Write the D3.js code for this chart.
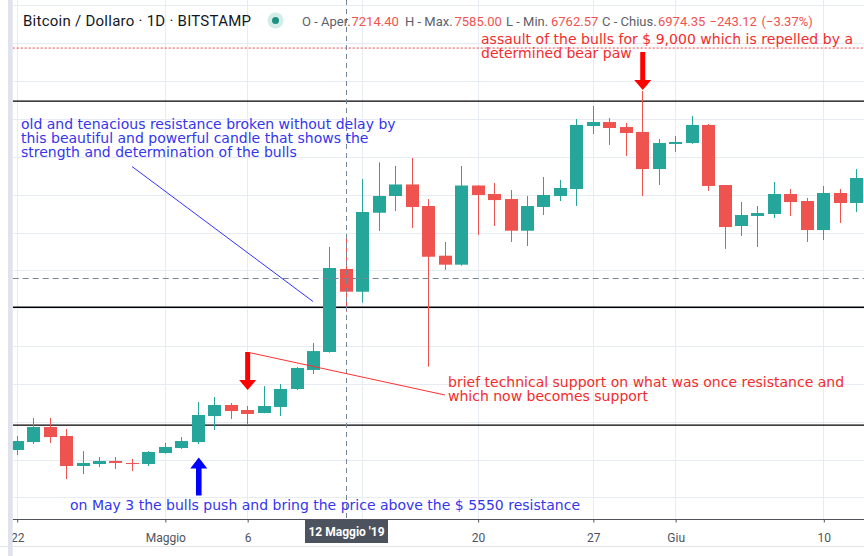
<!DOCTYPE html>
<html>
<head>
<meta charset="utf-8">
<script src="https://cdn.jsdelivr.net/npm/d3@7"></script>
<style>
  body { margin: 0; background: #fff; }
  svg { display: block; }
</style>
</head>
<body>
<div id="chart"></div>
<script>
// daily candles, BTC/USD Bitstamp
const dates = [
  "2019-04-22","2019-04-23","2019-04-24","2019-04-25","2019-04-26","2019-04-27","2019-04-28",
  "2019-04-29","2019-04-30","2019-05-01","2019-05-02","2019-05-03","2019-05-04","2019-05-05",
  "2019-05-06","2019-05-07","2019-05-08","2019-05-09","2019-05-10","2019-05-11","2019-05-12",
  "2019-05-13","2019-05-14","2019-05-15","2019-05-16","2019-05-17","2019-05-18","2019-05-19",
  "2019-05-20","2019-05-21","2019-05-22","2019-05-23","2019-05-24","2019-05-25","2019-05-26",
  "2019-05-27","2019-05-28","2019-05-29","2019-05-30","2019-05-31","2019-06-01","2019-06-02",
  "2019-06-03","2019-06-04","2019-06-05","2019-06-06","2019-06-07","2019-06-08","2019-06-09",
  "2019-06-10","2019-06-11","2019-06-12"
];
const opens = [
  5301, 5385, 5544, 5449, 5132, 5153, 5185, 5164, 5153, 5269, 5322, 5385, 5660, 5777,
  5724, 5692, 5756, 5946, 6147, 6337, 7214.40, 6974, 7809, 7986, 8108, 7880, 7355, 7260,
  8097, 8007, 7954, 7619, 7870, 7986, 8060, 8726, 8768, 8715, 8663, 8271, 8536, 8546,
  8737, 8102, 7669, 7775, 7796, 8007, 7933, 7626, 8018, 7912
];
const highs = [
  5449, 5639, 5639, 5523, 5290, 5227, 5227, 5206, 5290, 5375, 5438, 5808, 5861, 5798,
  5766, 5977, 5998, 6178, 6432, 7447, 7585.00, 8166, 8342, 8303, 8388, 7954, 7500, 8303,
  8100, 8123, 8049, 7986, 8187, 8155, 8800, 8937, 8811, 8758, 9096, 8588, 8620, 8832,
  8747, 8102, 7922, 7880, 8134, 8060, 7965, 8092, 8060, 8271
];
const lows = [
  5248, 5364, 5375, 4994, 5047, 5121, 5100, 5079, 5132, 5262, 5312, 5364, 5512, 5629,
  5565, 5690, 5660, 5935, 6104, 6330, 6762.57, 6858, 7616, 7827, 7648, 6182, 7204, 7249,
  7574, 7669, 7500, 7457, 7785, 7933, 7880, 8641, 8525, 8409, 7986, 8102, 8451, 8536,
  8039, 7426, 7563, 7447, 7753, 7775, 7500, 7521, 7701, 7817
];
const closes = [
  5396, 5544, 5438, 5132, 5164, 5185, 5164, 5156, 5280, 5333, 5396, 5671, 5777, 5713,
  5682, 5766, 5946, 6168, 6347, 7225, 6974.35, 7817, 7986, 8108, 7870, 7344, 7260, 8097,
  7997, 7943, 7619, 7880, 7997, 8071, 8737, 8768, 8705, 8652, 8271, 8546, 8557, 8737,
  8092, 7658, 7785, 7806, 8007, 7922, 7626, 8018, 7912, 8176
];

const gridPrices = [4800, 5200, 5600, 6000, 6400, 6800, 7200, 7600, 8000, 8400, 8800, 9200, 9600, 10000];
const tickDates = ["2019-04-22","2019-05-01","2019-05-06","2019-05-13","2019-05-20","2019-05-27","2019-06-01","2019-06-10"];
// the 13 label sits under the crosshair date box, so it is left blank
const tickLabels = ["22", "Maggio", "6", "", "20", "27", "Giu", "10"];

const levels = [8990, 6810, 5565];   // black horizontal lines
const dottedLevel = 9550;            // red dotted line
const crossDate = "2019-05-12";
const crossPrice = 7119;

const header = {
  title: "Bitcoin / Dollaro \u00b7 1D \u00b7 BITSTAMP",
  o: "7214.40", h: "7585.00", l: "6762.57", c: "6974.35",
  chg: "\u2212243.12", pct: "(\u22123.37%)"
};

const width = 864, height = 556;
const plotLeft = 12.7, axisY = 519;
const upColor = "#26a69a", downColor = "#ef5350";

const parse = d3.timeParse("%Y-%m-%d");
const candles = dates.map((d, i) => ({
  date: parse(d), o: opens[i], h: highs[i], l: lows[i], c: closes[i]
}));

const x = d3.scaleTime()
  .domain([parse("2019-04-22"), parse("2019-06-10")])
  .range([16.7, 823.3]);
const y = d3.scaleLinear()
  .domain([4800, 8800])
  .range([497.4, 119]);

const svg = d3.select("#chart").append("svg")
  .attr("width", width)
  .attr("height", height)
  .attr("viewBox", `0 0 ${width} ${height}`)
  .style("font-family", "'DejaVu Sans', Verdana, sans-serif");

svg.append("rect").attr("width", width).attr("height", height).attr("fill", "#fff");

svg.append("defs").append("clipPath").attr("id", "plot-clip")
  .append("rect")
  .attr("x", plotLeft).attr("y", 0)
  .attr("width", width - plotLeft).attr("height", axisY);

// grid
const grid = svg.append("g").attr("stroke", "#e6ecf2").attr("stroke-width", 1);
grid.selectAll(".hgrid")
  .data(gridPrices)
  .join("line")
  .attr("class", "hgrid")
  .attr("x1", plotLeft).attr("x2", width)
  .attr("y1", d => Math.round(y(d)) + 0.5)
  .attr("y2", d => Math.round(y(d)) + 0.5);
grid.selectAll(".vgrid")
  .data(tickDates)
  .join("line")
  .attr("class", "vgrid")
  .attr("x1", d => Math.round(x(parse(d))) + 0.5)
  .attr("x2", d => Math.round(x(parse(d))) + 0.5)
  .attr("y1", 0).attr("y2", axisY);

const plot = svg.append("g").attr("clip-path", "url(#plot-clip)");

// horizontal levels
plot.selectAll(".level")
  .data(levels)
  .join("line")
  .attr("class", "level")
  .attr("x1", plotLeft).attr("x2", width)
  .attr("y1", d => y(d)).attr("y2", d => y(d))
  .attr("stroke", "#000").attr("stroke-width", 1.3);

plot.append("line")
  .attr("x1", plotLeft).attr("x2", width)
  .attr("y1", y(dottedLevel)).attr("y2", y(dottedLevel))
  .attr("stroke", "#f23c3c").attr("stroke-width", 1)
  .attr("stroke-dasharray", "2,2");

// candles
const bodyW = 13;
const candle = plot.selectAll(".candle")
  .data(candles)
  .join("g")
  .attr("class", "candle")
  .attr("fill", d => d.c >= d.o ? upColor : downColor)
  .attr("stroke", d => d.c >= d.o ? upColor : downColor);

candle.append("line")
  .attr("x1", d => Math.round(x(d.date)) + 0.5)
  .attr("x2", d => Math.round(x(d.date)) + 0.5)
  .attr("y1", d => y(d.h))
  .attr("y2", d => y(d.l))
  .attr("stroke-width", 1);

candle.append("rect")
  .attr("x", d => Math.round(x(d.date)) + 0.5 - bodyW / 2)
  .attr("y", d => y(Math.max(d.o, d.c)))
  .attr("width", bodyW)
  .attr("height", d => Math.max(1, Math.abs(y(d.o) - y(d.c))))
  .attr("stroke", "none");

// crosshair
const cx = Math.round(x(parse(crossDate))) + 0.5;
svg.append("line")
  .attr("x1", cx).attr("x2", cx)
  .attr("y1", 0).attr("y2", axisY)
  .attr("stroke", "#758696").attr("stroke-width", 1)
  .attr("stroke-dasharray", "5,4");
svg.append("line")
  .attr("x1", plotLeft).attr("x2", width)
  .attr("y1", Math.round(y(crossPrice)) + 0.5).attr("y2", Math.round(y(crossPrice)) + 0.5)
  .attr("stroke", "#758696").attr("stroke-width", 1)
  .attr("stroke-dasharray", "6,4");

// x axis
svg.append("line")
  .attr("x1", plotLeft).attr("x2", width)
  .attr("y1", axisY + 0.5).attr("y2", axisY + 0.5)
  .attr("stroke", "#50535e").attr("stroke-width", 1);

const xAxis = d3.axisBottom(x)
  .tickValues(tickDates.map(parse))
  .tickFormat((d, i) => tickLabels[i])
  .tickSize(3)
  .tickSizeOuter(0);

const axisG = svg.append("g")
  .attr("transform", `translate(0.5,${axisY + 0.5})`)
  .call(xAxis);
axisG.select(".domain").remove();
axisG.selectAll(".tick line").attr("stroke", "#50535e");
axisG.selectAll(".tick text")
  .attr("y", 14)
  .attr("fill", "#50535e")
  .style("font-family", "Roboto, 'Liberation Sans', sans-serif")
  .style("font-size", "12px");

svg.append("line")
  .attr("x1", 0).attr("x2", width)
  .attr("y1", 546.5).attr("y2", 546.5)
  .attr("stroke", "#e0e3eb").attr("stroke-width", 1);

// crosshair date label
svg.append("rect")
  .attr("x", cx - 41.5).attr("y", axisY + 1)
  .attr("width", 83).attr("height", 23)
  .attr("fill", "#4c525e");
svg.append("text")
  .attr("x", cx).attr("y", axisY + 17)
  .attr("text-anchor", "middle")
  .attr("fill", "#fff")
  .style("font-family", "Roboto, 'Liberation Sans', sans-serif")
  .style("font-size", "12px")
  .style("font-weight", "bold")
  .text("12 Maggio '19");

// left edge band
svg.append("rect")
  .attr("x", 8).attr("y", 0)
  .attr("width", plotLeft - 8).attr("height", height)
  .attr("fill", "#e0e3eb");

// header legend
const hdr = svg.append("g")
  .style("font-family", "Roboto, 'Liberation Sans', sans-serif");
hdr.append("text")
  .attr("x", 23).attr("y", 26)
  .attr("fill", "#131722")
  .style("font-size", "15px")
  .attr("textLength", 228)
  .text(header.title);
hdr.append("circle").attr("cx", 275.5).attr("cy", 20.5).attr("r", 8).attr("fill", "#d3ece8");
hdr.append("circle").attr("cx", 275.5).attr("cy", 20.5).attr("r", 3.5).attr("fill", "#1e8f80");

const legendParts = [
  { t: "O - Aper.", x: 302, c: "#5d606b" },
  { t: header.o, x: 351.5, c: downColor },
  { t: "H - Max.", x: 405, c: "#5d606b" },
  { t: header.h, x: 454.5, c: downColor },
  { t: "L - Min.", x: 506, c: "#5d606b" },
  { t: header.l, x: 551, c: downColor },
  { t: "C - Chius.", x: 602, c: "#5d606b" },
  { t: header.c, x: 658, c: downColor },
  { t: header.chg, x: 709.5, c: downColor },
  { t: header.pct, x: 761.5, c: downColor }
];
hdr.selectAll(".lg")
  .data(legendParts)
  .join("text")
  .attr("class", "lg")
  .attr("x", d => d.x).attr("y", 25.5)
  .attr("fill", d => d.c)
  .style("font-size", "13px")
  .text(d => d.t);

// annotations
const ann = svg.append("g").style("font-size", "14px");

function downArrow(cxp, tipY, color) {
  const path = d3.path();
  path.moveTo(cxp - 2.5, tipY - 38);
  path.lineTo(cxp + 2.5, tipY - 38);
  path.lineTo(cxp + 2.5, tipY - 10);
  path.lineTo(cxp + 8.5, tipY - 10);
  path.lineTo(cxp, tipY);
  path.lineTo(cxp - 8.5, tipY - 10);
  path.lineTo(cxp - 2.5, tipY - 10);
  path.closePath();
  ann.append("path").attr("d", path.toString()).attr("fill", color);
}
function upArrow(cxp, tipY, color) {
  const path = d3.path();
  path.moveTo(cxp, tipY);
  path.lineTo(cxp + 8.5, tipY + 11);
  path.lineTo(cxp + 2.8, tipY + 11);
  path.lineTo(cxp + 2.8, tipY + 38);
  path.lineTo(cxp - 2.8, tipY + 38);
  path.lineTo(cxp - 2.8, tipY + 11);
  path.lineTo(cxp - 8.5, tipY + 11);
  path.closePath();
  ann.append("path").attr("d", path.toString()).attr("fill", color);
}

// top right
downArrow(x(parse("2019-05-30")) + 0.5, 90, "#ff0000");
ann.append("text").attr("x", 481).attr("y", 44).attr("fill", "#f22c2c")
  .attr("textLength", 372)
  .text("assault of the bulls for $ 9,000 which is repelled by a");
ann.append("text").attr("x", 481).attr("y", 58).attr("fill", "#f22c2c")
  .text("determined bear paw");

// blue block
const blueLines = [
  "old and tenacious resistance broken without delay by",
  "this beautiful and powerful candle that shows the",
  "strength and determination of the bulls"
];
ann.selectAll(".blue-note")
  .data(blueLines)
  .join("text")
  .attr("class", "blue-note")
  .attr("x", 21).attr("y", (d, i) => 129 + i * 14)
  .attr("fill", "#3535ee")
  .text(d => d);
ann.append("line")
  .attr("x1", 132).attr("y1", 166.5)
  .attr("x2", 313).attr("y2", 301.5)
  .attr("stroke", "#3333ff").attr("stroke-width", 1);

// support note
downArrow(x(parse("2019-05-06")) + 0.5, 390, "#ff0000");
ann.append("line")
  .attr("x1", 249).attr("y1", 352.5)
  .attr("x2", 445).attr("y2", 395)
  .attr("stroke", "#ff3030").attr("stroke-width", 1);
ann.append("text").attr("x", 448).attr("y", 387).attr("fill", "#f22c2c")
  .text("brief technical support on what was once resistance and");
ann.append("text").attr("x", 448).attr("y", 401).attr("fill", "#f22c2c")
  .text("which now becomes support");

// May 3 note
upArrow(x(parse("2019-05-03")) + 1, 457.5, "#0000ff");
ann.append("text").attr("x", 70).attr("y", 510).attr("fill", "#3535ee")
  .text("on May 3 the bulls push and bring the price above the $ 5550 resistance");
</script>
</body>
</html>
